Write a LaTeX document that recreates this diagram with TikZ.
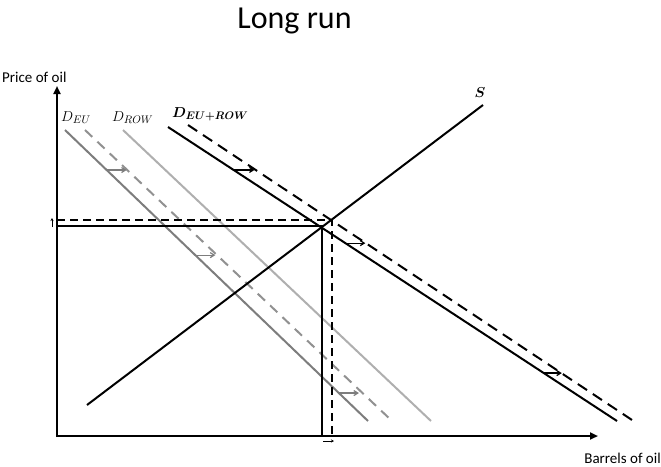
\documentclass[tikz,border=0pt]{standalone}
\usepackage{fontspec}
\usepackage{bm}
\setmainfont{Carlito}
\usetikzlibrary{arrows.meta,calc}
\definecolor{eugrey}{RGB}{125,125,125}
\definecolor{eudash}{RGB}{145,145,145}
\definecolor{rowgrey}{RGB}{175,175,175}
\begin{document}
\begin{tikzpicture}[x=1pt,y=-1pt,
	axis/.style={line width=2.2pt, -{Triangle[length=8pt,width=7pt]}},
	curve/.style={line width=2pt},
	eqline/.style={line width=1.3pt},
	shiftarrow/.style={line width=1.2pt, -{Straight Barb[length=4pt,width=5pt]}},
	nudge/.style={line width=0.9pt, -{Stealth[length=3pt,width=3pt]}},
	]
	\useasboundingbox (0,0) rectangle (661,466);
	\node[anchor=base] (title) at (294.5,28) {\fontsize{32}{36}\selectfont Long run};
	
	% axes
	\coordinate (O) at (57,436);
	\coordinate (ytop) at (57,86);
	\coordinate (xend) at (598,436);
	\draw[axis] ($(O)+(0,1.1)$) -- (ytop);
	\draw[axis] (O) -- (xend);
	\node[anchor=base west, inner sep=0pt] (pricelbl) at (2,82) {\fontsize{15}{18}\selectfont Price of oil};
	\node[anchor=base east, inner sep=0pt] (qtylbl) at (661,463) {\fontsize{15}{18}\selectfont Barrels of oil};
	
	% demand curves
	\coordinate (eu1) at (65,130);    \coordinate (eu2) at (368,421);
	\coordinate (eun1) at (85,130);   \coordinate (eun2) at (391,420);
	\coordinate (row1) at (123,130);  \coordinate (row2) at (431,421);
	\coordinate (agg1) at (168,127);  \coordinate (agg2) at (617,421);
	\coordinate (aggn1) at (188,125); \coordinate (aggn2) at (632,420);
	\draw[curve, eugrey] (eu1) -- (eu2);
	\draw[curve, eudash, dash pattern=on 10pt off 7pt] (eun1) -- (eun2);
	\draw[curve, rowgrey] (row1) -- (row2);
	\draw[curve] (agg1) -- (agg2);
	\draw[curve, dash pattern=on 11pt off 7pt] (aggn1) -- (aggn2);
	\node[anchor=base west, inner sep=0pt] (eulbl) at (61,121) {\fontsize{15}{18}\selectfont $D_{EU}$};
	\node[anchor=base west, inner sep=0pt] (rowlbl) at (112,121) {\fontsize{15}{18}\selectfont $D_{ROW}$};
	\node[anchor=base west, inner sep=0pt] (agglbl) at (172,117) {\fontsize{15}{18}\selectfont $\bm{D_{EU+ROW}}$};
	
	% supply
	\coordinate (s1) at (87,405); \coordinate (s2) at (483,105);
	\draw[curve] (s1) -- (s2);
	\node (slbl) at (480,93) {\fontsize{14}{16}\selectfont $\bm{S}$};
	
	% shifts
	\draw[shiftarrow, eugrey] ($(eu1)!0.1375!(eu2)$) -- +(20,0);
	\draw[shiftarrow, eugrey] ($(eu1)!0.43!(eu2)$) -- +(20,0);
	\draw[shiftarrow, eugrey] ($(eu1)!0.904!(eu2)$) -- +(20,0);
	\draw[shiftarrow] ($(agg1)!0.146!(agg2)$) -- +(21,0);
	\draw[shiftarrow] ($(agg1)!0.395!(agg2)$) -- +(20,0);
	\draw[shiftarrow] ($(agg1)!0.837!(agg2)$) -- +(18,0);
	
	% equilibria
	\coordinate (E0) at (322,226);
	\coordinate (E1) at (332,220);
	\draw[eqline] (O |- E0) -- (E0) -- (E0 |- O);
	\draw[eqline, dash pattern=on 8pt off 5pt] (O |- E1) -- (E1) -- (E1 |- O);
	\draw[nudge] (52,227) -- (52,218);
	\draw[nudge] (323,441) -- (334,441);
\end{tikzpicture}
\end{document}
